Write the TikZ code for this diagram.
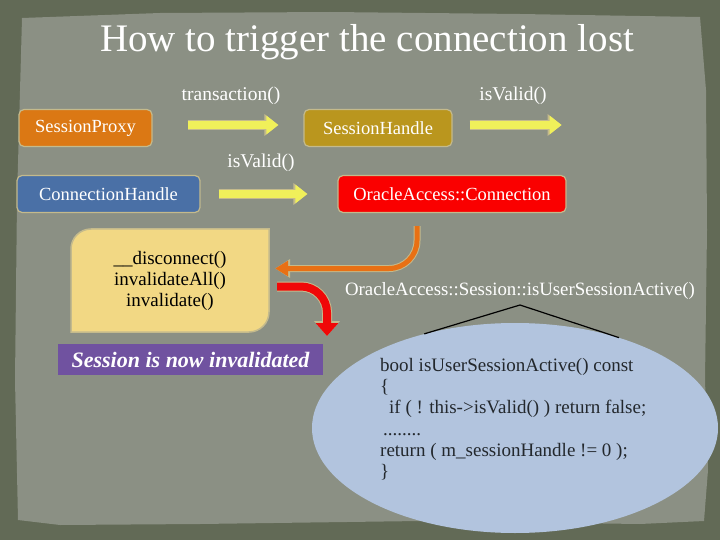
\documentclass[tikz,border=0pt]{standalone}
\usepackage{fontspec}
\setmainfont{Liberation Serif}
\usetikzlibrary{arrows.meta,calc,positioning,shapes.geometric}
\definecolor{slateout}{RGB}{98,106,86}
\definecolor{slatepaper}{RGB}{139,144,132}
\definecolor{proxyorange}{RGB}{219,120,20}
\definecolor{handlegold}{RGB}{186,150,30}
\definecolor{connblue}{RGB}{74,112,166}
\definecolor{oraclered}{RGB}{250,0,0}
\definecolor{noteyellow}{RGB}{242,216,132}
\definecolor{notepurple}{RGB}{112,82,160}
\definecolor{bubbleblue}{RGB}{178,196,222}
\definecolor{arrowyellow}{RGB}{240,240,90}
\definecolor{arroworange}{RGB}{232,112,20}
\definecolor{arrowred}{RGB}{240,8,8}
\definecolor{edgetan}{RGB}{196,186,140}
\definecolor{codeink}{RGB}{35,40,45}

\begin{document}
\begin{tikzpicture}[x=1pt,y=-1pt,
  classbox/.style={draw=edgetan,line width=1.2pt,rounded corners=5pt,text=white,
    minimum height=37pt,inner sep=0pt,font=\fontsize{18.5}{21}\selectfont},
  calllabel/.style={text=white,inner sep=0pt,font=\fontsize{19.5}{22}\selectfont},
  blockarrow/.style={draw=arrowyellow,line width=8pt,-{Triangle[width=18pt,length=12pt]},
    preaction={draw=edgetan,line width=10pt,-{Triangle[width=21pt,length=14pt]}}},
  orangearrow/.style={draw=arroworange,line width=5pt,-{Triangle[width=15pt,length=13pt]},
    preaction={draw=edgetan,line width=7pt,-{Triangle[width=18pt,length=15pt]}}},
  redarrow/.style={draw=arrowred,line width=8pt,-{Triangle[width=22pt,length=13pt]},
    preaction={draw=edgetan,line width=10pt,-{Triangle[width=25pt,length=15pt]}}}]
\useasboundingbox (0,0) rectangle (720,540);
% background
\fill[slateout] (0,0) rectangle (720,540);
\fill[slatepaper] (22,18) -- (160,13) -- (330,12) -- (520,14) -- (700,17) -- (706,90)
  -- (707,230) -- (705,380) -- (708,470) -- (704,521) -- (640,524) -- (420,521) -- (200,524)
  -- (60,525) -- (18,520) -- (15,380) -- (17,200) -- cycle;
\node[text=white,font=\fontsize{39}{44}\selectfont] (title) at (367,42) {How to trigger the connection lost};
% classes
\node[classbox,fill=proxyorange,minimum width=133pt] (proxy) at (85.5,128) {SessionProxy};
\node[classbox,fill=handlegold,minimum width=148pt] (handle) at (378,128) {SessionHandle};
\node[classbox,fill=connblue,minimum width=183pt] (conn) at (108.5,194) {ConnectionHandle};
\node[classbox,fill=oraclered,minimum width=228pt] (oracle) at (452,194) {OracleAccess::Connection};
\node[calllabel] (trans) at (231,96) {transaction()};
\node[calllabel] (valid1) at (513,96) {isValid()};
\node[calllabel] (valid2) at (261,163) {isValid()};
\coordinate (tail) at ([xshift=109pt,yshift=3pt]handle.east);
\draw[blockarrow] ([xshift=35pt,yshift=3pt]proxy.east) -- ([xshift=-25pt,yshift=3pt]handle.west);
\draw[blockarrow] ([xshift=17pt,yshift=3pt]handle.east) -- (tail);
\draw[blockarrow] ([xshift=18pt]conn.east) -- ([xshift=-30pt]oracle.west);
% invalidation
\filldraw[fill=noteyellow,draw=edgetan,line width=1.5pt] (91,229) -- (269,229) -- (269,312)
  arc[start angle=0,end angle=-90,radius=20pt] -- (71,332) -- (71,249)
  arc[start angle=180,end angle=90,radius=20pt] -- cycle;
\node[minimum width=198pt,minimum height=103pt,align=center,text=black,
  font=\fontsize{19}{21}\selectfont] (note) at (170,280.5) {\_\_disconnect()\\invalidateAll()\\invalidate()};
\node[fill=notepurple,text=white,minimum width=265pt,minimum height=31pt,inner sep=0pt,
  font=\fontsize{22}{24}\selectfont\bfseries\itshape] (invalid) at (190.5,359.5) {Session is now invalidated};
\coordinate (redtip) at (327,336);
\draw[orangearrow,rounded corners=28pt] ([xshift=-35pt,yshift=-13pt]oracle.south) |- ([xshift=6pt,yshift=12pt]note.east);
\draw[redarrow,rounded corners=26pt] ([xshift=8pt,yshift=-6pt]note.east) -| (redtip);
% session check
\node[calllabel,font=\fontsize{18.8}{22}\selectfont] (sessact) at (520,291) {OracleAccess::Session::isUserSessionActive()};
\coordinate (apex) at ([yshift=-14pt]sessact.center);
\node[ellipse,fill=bubbleblue,minimum width=406pt,minimum height=210pt,inner sep=0pt] (bubble) at (515,428) {};
\draw[line width=1.2pt] (bubble.134) -- (apex) -- (bubble.41);
\node[anchor=north west,align=left,text=codeink,inner sep=0pt,
  font=\fontsize{19}{21.3}\selectfont] (code) at (380,358) {bool isUserSessionActive() const\\
\{\\
\hspace*{9pt}if ( ! this->isValid() ) return false;\\
\hspace*{3pt}........\\
return ( m\_sessionHandle != 0 );\\
\}};
\end{tikzpicture}
\end{document}
